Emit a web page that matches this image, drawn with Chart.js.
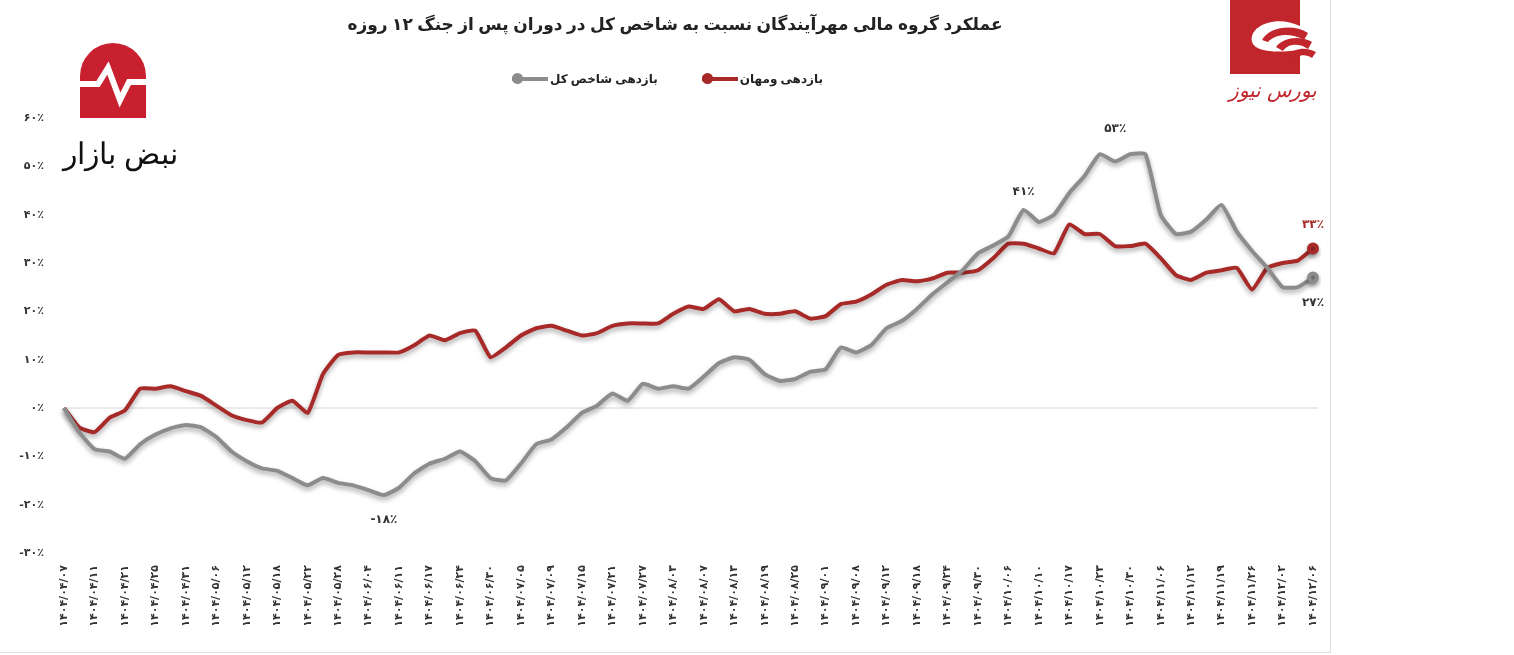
<!DOCTYPE html>
<html lang="fa">
<head>
<meta charset="utf-8">
<script src="https://cdn.jsdelivr.net/npm/chart.js@4.4.1/dist/chart.umd.min.js"></script>
<style>
  body { margin: 0; background: #fff; font-family: 'Noto Sans', 'DejaVu Sans', sans-serif; }
  #frame { position: absolute; left: 0; top: 0; width: 1330px; height: 652px; border-right: 1px solid #ddd; border-bottom: 1px solid #ddd; }
  #wrap { position: absolute; left: 0; top: 0; width: 1330px; height: 655px; }
  .title { position: absolute; left: 300px; width: 750px; top: 12px; text-align: center; font-size: 17px; font-weight: bold; color: #222; direction: rtl; }
  .legend { position: absolute; top: 70px; left: 512px; font-size: 12px; font-weight: bold; color: #222; direction: rtl; display: flex; gap: 44px; }
  .legend span { display: inline-flex; align-items: center; }
  .key { display: inline-block; position: relative; width: 36px; height: 4px; margin-right: 2px; }
  .key i { position: absolute; left: 0; top: -4px; width: 11px; height: 11px; border-radius: 50%; }
  #pulse { position: absolute; left: 18px; top: 42px; width: 160px; }
  #pulse .txt { position: absolute; left: 0; top: 90px; font-size: 30px; color: #111; direction: rtl; width: 160px; text-align: right; font-family: 'Noto Sans', sans-serif; }
  #bourse { position: absolute; left: 1228px; top: 0; width: 90px; }
  #bourse .txt { position: absolute; left: 0; top: 76px; width: 90px; text-align: center; color: #c0262b; font-size: 20px; font-style: italic; direction: rtl; }
</style>
</head>
<body>
<div id="frame"></div>
<div id="wrap"><canvas id="chart"></canvas></div>
<div class="title">عملکرد گروه مالی مهرآیندگان نسبت به شاخص کل در دوران پس از جنگ ۱۲ روزه</div>
<div class="legend">
  <span>بازدهی ومهان<span class="key" style="background:#a82a28"><i style="background:#a82a28"></i></span></span>
  <span>بازدهی شاخص کل<span class="key" style="background:#8c8c8c"><i style="background:#8c8c8c"></i></span></span>
</div>
<div id="pulse">
  <svg width="160" height="80" viewBox="0 0 160 80" style="position:absolute;left:0;top:0">
    <path d="M62 76 V34 A33 33 0 0 1 128 34 V76 Z" fill="#c8202e"/>
    <polyline points="62,42 80,42 90,26 102,58 111,40 128,40" fill="none" stroke="#fff" stroke-width="6" stroke-linejoin="miter"/>
  </svg>
  <div class="txt">نبض بازار</div>
</div>
<div id="bourse">
  <svg width="90" height="74" viewBox="0 0 90 74">
    <rect x="2" y="0" width="70" height="74" fill="#c0262b"/>
    <path d="M72 26 C48 14 20 26 24 42 C28 54 56 52 72 50" fill="#fff"/>
    <path d="M34 40 C42 26 66 24 80 33 L76 40 C64 33 48 33 40 42 Z" fill="#c0262b"/>
    <path d="M48 47 C56 36 74 36 84 42 L80 49 C72 43 60 43 55 51 Z" fill="#c0262b"/>
    <path d="M60 56 C66 47 80 47 88 52 L84 58 C78 54 70 54 67 61 Z" fill="#c0262b"/>
  </svg>
  <div class="txt">بورس نیوز</div>
</div>
<script>
// tick labels on the date axis (every other point is an unlabelled day)
const dateTicks = ['۱۴۰۴/۰۴/۰۷','۱۴۰۴/۰۴/۱۱','۱۴۰۴/۰۴/۲۱','۱۴۰۴/۰۴/۲۵','۱۴۰۴/۰۴/۳۱','۱۴۰۴/۰۵/۰۶','۱۴۰۴/۰۵/۱۲',
  '۱۴۰۴/۰۵/۱۸','۱۴۰۴/۰۵/۲۲','۱۴۰۴/۰۵/۲۸','۱۴۰۴/۰۶/۰۴','۱۴۰۴/۰۶/۱۱','۱۴۰۴/۰۶/۱۷','۱۴۰۴/۰۶/۲۴','۱۴۰۴/۰۶/۳۰',
  '۱۴۰۴/۰۷/۰۵','۱۴۰۴/۰۷/۰۹','۱۴۰۴/۰۷/۱۵','۱۴۰۴/۰۷/۲۱','۱۴۰۴/۰۷/۲۷','۱۴۰۴/۰۸/۰۳','۱۴۰۴/۰۸/۰۷','۱۴۰۴/۰۸/۱۳',
  '۱۴۰۴/۰۸/۱۹','۱۴۰۴/۰۸/۲۵','۱۴۰۴/۰۹/۰۱','۱۴۰۴/۰۹/۰۸','۱۴۰۴/۰۹/۱۲','۱۴۰۴/۰۹/۱۸','۱۴۰۴/۰۹/۲۴','۱۴۰۴/۰۹/۳۰',
  '۱۴۰۴/۱۰/۰۶','۱۴۰۴/۱۰/۱۰','۱۴۰۴/۱۰/۱۷','۱۴۰۴/۱۰/۲۳','۱۴۰۴/۱۰/۳۰','۱۴۰۴/۱۱/۰۶','۱۴۰۴/۱۱/۱۲','۱۴۰۴/۱۱/۱۹',
  '۱۴۰۴/۱۱/۲۶','۱۴۰۴/۱۲/۰۲','۱۴۰۴/۱۲/۰۶'];

const yTicks = [60, 50, 40, 30, 20, 10, 0, -10, -20, -30];

// return of وmehan (%)
const mehanReturn = [0,-4,-5,-2,-0.5,4,4,4.5,3.5,2.5,0.5,-1.5,-2.5,-3,0,1.5,-1,7,11,11.5,
  11.5,11.5,11.5,13,15,14,15.5,16,10.5,12.5,15,16.5,17,16,15,15.5,17,17.5,17.5,17.5,
  19.5,21,20.5,22.5,20,20.5,19.5,19.5,20,18.5,19,21.5,22,23.5,25.5,26.5,26.2,26.8,28,28,
  28.5,31,34,34,33,32,38,36,36,33.5,33.5,34,31,27.5,26.5,28,28.5,29,24.5,29,
  30,30.5,33];

// return of the overall index (%)
const indexReturn = [0,-5,-8.5,-9,-10.5,-7.5,-5.5,-4.2,-3.5,-4,-6,-9,-11,-12.5,-13,-14.5,-16,-14.5,-15.5,-16,
  -17,-18,-16.5,-13.5,-11.5,-10.5,-9,-11,-14.5,-15,-11.5,-7.5,-6.5,-4,-1,0.5,3,1.5,5,4,
  4.5,4,6.5,9.3,10.5,10,7,5.6,6,7.5,8,12.5,11.5,13,16.5,18,20.5,23.5,26,28.5,
  32,33.6,35.5,41,38.5,40,44.5,48,52.5,51,52.5,52.5,40,36,36.5,39,42,36.5,32.5,29,
  25,25,27];

// annotated values: [series, index, text, dx, dy, colour]
const callouts = [
  ['index', 63, '۴۱٪', 0, -18, '#333'],
  ['index', 70, '۵۳٪', -15, -25, '#333'],
  ['index', 21, '-۱۸٪', 0, 25, '#333'],
  ['mehan', 82, '۳۳٪', 0, -24, '#a82a28'],
  ['index', 82, '۲۷٪', 0, 25, '#333']
];

const labels = [];
dateTicks.forEach((t, i) => { labels.push(t); if (i < dateTicks.length - 1) labels.push(''); });

const fa = n => String(n).replace(/\d/g, d => '۰۱۲۳۴۵۶۷۸۹'[d]);

const W = 1330, H = 655;
const canvas = document.getElementById('chart');
canvas.width = W; canvas.height = H;
canvas.style.width = W + 'px'; canvas.style.height = H + 'px';

const decor = {
  id: 'decor',
  beforeDatasetsDraw(chart) {
    const { ctx, chartArea, scales: { x, y } } = chart;
    ctx.save();
    // zero line
    ctx.strokeStyle = '#d6d6d6'; ctx.lineWidth = 1;
    ctx.beginPath(); ctx.moveTo(chartArea.left, y.getPixelForValue(0)); ctx.lineTo(1318, y.getPixelForValue(0)); ctx.stroke();
    // y labels
    ctx.fillStyle = '#333'; ctx.font = 'bold 11px "DejaVu Sans"'; ctx.textAlign = 'right'; ctx.textBaseline = 'middle';
    yTicks.forEach(v => ctx.fillText(fa(v) + '٪', 44, y.getPixelForValue(v)));
    // x labels, rotated to read bottom-up
    ctx.font = 'bold 11px "DejaVu Sans"'; ctx.textAlign = 'right';
    dateTicks.forEach((t, i) => {
      ctx.save();
      ctx.translate(x.getPixelForValue(i * 2), 565);
      ctx.rotate(-Math.PI / 2);
      ctx.fillText(t, 0, 0);
      ctx.restore();
    });
    ctx.restore();
    ctx.save();
    ctx.shadowColor = 'rgba(0,0,0,0.35)'; ctx.shadowBlur = 5; ctx.shadowOffsetY = 3;
  },
  afterDatasetsDraw(chart) {
    const { ctx, scales: { x, y } } = chart;
    ctx.restore();
    ctx.save();
    ctx.font = 'bold 12px "DejaVu Sans"'; ctx.textAlign = 'center'; ctx.textBaseline = 'middle';
    callouts.forEach(([s, i, txt, dx, dy, col]) => {
      const v = (s === 'index' ? indexReturn : mehanReturn)[i];
      ctx.fillStyle = col;
      ctx.fillText(txt, x.getPixelForValue(i) + dx, y.getPixelForValue(v) + dy);
    });
    ctx.restore();
  }
};

const lastOnly = (arr) => arr.map((_, i) => i === arr.length - 1 ? 4 : 0);

new Chart(canvas, {
  type: 'line',
  data: {
    labels: labels,
    datasets: [
      {
        label: 'بازدهی شاخص کل',
        data: indexReturn,
        borderColor: '#8c8c8c',
        backgroundColor: '#8c8c8c',
        borderWidth: 4,
        pointRadius: lastOnly(indexReturn),
        tension: 0.15
      },
      {
        label: 'بازدهی ومهان',
        data: mehanReturn,
        borderColor: '#a82a28',
        backgroundColor: '#a82a28',
        borderWidth: 4,
        pointRadius: lastOnly(mehanReturn),
        tension: 0.15
      }
    ]
  },
  options: {
    responsive: false,
    animation: false,
    layout: { padding: { left: 64, right: W - 1313, top: 118, bottom: H - 553 } },
    plugins: { legend: { display: false }, tooltip: { enabled: false } },
    scales: {
      x: { display: false, offset: false },
      y: { display: false, min: -30, max: 60 }
    }
  },
  plugins: [decor]
});
</script>
</body>
</html>
